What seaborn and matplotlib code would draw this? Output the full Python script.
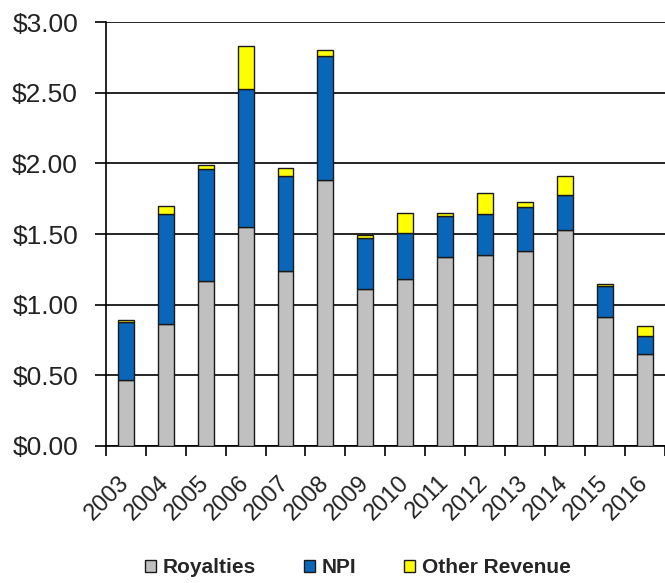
import numpy as np
import pandas as pd
import seaborn as sns
import matplotlib.pyplot as plt
from matplotlib.ticker import FixedLocator, FuncFormatter

# values ($ per unit)
years = ['2003', '2004', '2005', '2006', '2007', '2008', '2009',
         '2010', '2011', '2012', '2013', '2014', '2015', '2016']
royalties = [0.47, 0.86, 1.17, 1.55, 1.24, 1.88, 1.11, 1.18, 1.34, 1.35, 1.38, 1.53, 0.91, 0.65]
npi = [0.41, 0.78, 0.79, 0.98, 0.67, 0.88, 0.36, 0.33, 0.29, 0.29, 0.31, 0.25, 0.22, 0.13]
other = [0.01, 0.06, 0.03, 0.30, 0.06, 0.04, 0.02, 0.14, 0.02, 0.15, 0.04, 0.13, 0.02, 0.07]

df = pd.DataFrame({'year': years, 'Royalties': royalties, 'NPI': npi, 'Other Revenue': other})
series = [('Royalties', '#c0c0c0'), ('NPI', '#0a66b8'), ('Other Revenue', '#ffff00')]

sns.set_style('white')
plt.rcParams['font.family'] = ['Liberation Sans', 'DejaVu Sans']

fig = plt.figure(figsize=(6.65, 5.83), dpi=100)
ax = fig.add_axes([0.159, 0.235, 0.841, 0.727])

bottom = np.zeros(len(df))
for name, col in series:
    sns.barplot(data=df, x='year', y=name, bottom=bottom, color=col, width=0.4,
                edgecolor='#1a1a1a', linewidth=1.0, saturation=1, label=name, ax=ax, zorder=3)
    bottom = bottom + df[name].values

ax.set_xlim(-0.5, len(years) - 0.5)
ax.set_ylim(0, 3.0)
ax.set_yticks(np.arange(0, 3.01, 0.5))
ax.yaxis.set_major_formatter(FuncFormatter(lambda v, p: f'${v:.2f}'))
ax.grid(axis='y', color='black', linewidth=1.2, zorder=0)
ax.set_axisbelow(True)

ax.spines['right'].set_visible(False)
ax.spines['top'].set_visible(False)
for s in ['left', 'bottom']:
    ax.spines[s].set_color('black')
    ax.spines[s].set_linewidth(1.2)

ax.set_xlabel('')
ax.set_ylabel('')
ax.tick_params(axis='y', which='major', left=True, length=8, width=1.2, color='black',
               labelsize=19, pad=12, labelcolor='#222222')
ax.tick_params(axis='x', which='major', length=0, labelsize=17, pad=24, labelcolor='#222222')
ax.xaxis.set_minor_locator(FixedLocator(np.arange(-0.5, len(years), 1.0)))
ax.tick_params(axis='x', which='minor', bottom=True, length=7, width=1.2, color='black')
plt.setp(ax.get_xticklabels(), rotation=45, ha='right', va='center', rotation_mode='anchor')

handles, labels = ax.get_legend_handles_labels()
if ax.get_legend() is not None:
    ax.get_legend().remove()
fig.legend(handles, labels, loc='center', bbox_to_anchor=(0.538, 0.026), ncol=3, frameon=False,
           prop={'weight': 'bold', 'size': 15}, handlelength=0.55, handleheight=0.55,
           handletextpad=0.3, columnspacing=2.3)

fig.savefig('out.png', dpi=100)
